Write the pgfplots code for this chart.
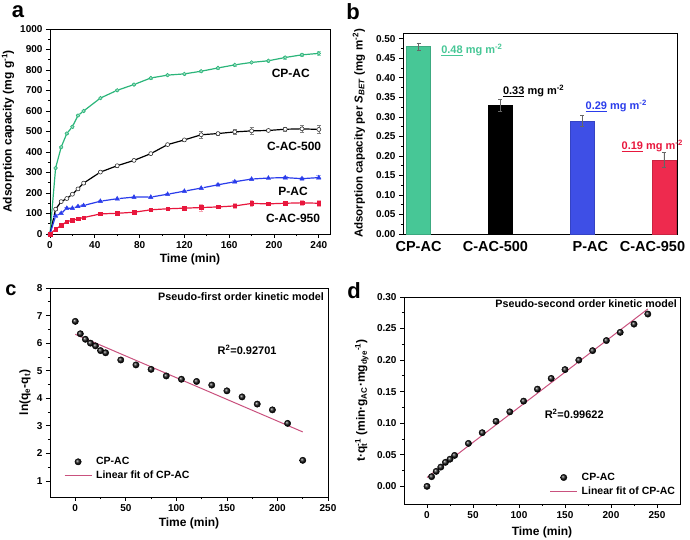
\documentclass[border=0pt]{standalone}
\usepackage{fontspec}
\setmainfont{Liberation Sans}
\usepackage{pgfplots}
\pgfplotsset{compat=1.18}
\definecolor{cgreen}{HTML}{2BB57A}
\definecolor{cblue}{HTML}{2A3CEB}
\definecolor{cred}{HTML}{E8173D}
\definecolor{bgreen}{HTML}{47C796}
\definecolor{bblue}{HTML}{3E4FE6}
\definecolor{bred}{HTML}{EE2A4E}
\definecolor{fitc}{HTML}{C9517E}
\newcommand{\fs}[1]{\fontsize{#1}{#1}\selectfont}
\pgfplotsset{
  every axis/.append style={
    scale only axis,
    axis line style={line width=0.9pt},
    tick style={line width=0.8pt, black},
    tick align=outside,
    xtick pos=left, ytick pos=left,
    major tick length=4pt, minor tick length=2.2pt,
    tick label style={font=\bfseries\fs{10}},
    label style={font=\bfseries\fs{12}},
    /pgf/number format/assume math mode=true,
    /pgf/number format/set thousands separator={},
    clip=false,
  },
}
\begin{document}
\begin{tikzpicture}
\path[use as bounding box] (0pt,0pt) rectangle (690pt,540pt);

% ---------------- panel a ----------------
\begin{axis}[at={(50pt,306pt)}, anchor=south west, width=280pt, height=205pt,
  xmin=0, xmax=250, ymin=0, ymax=1000,
  xtick={0,40,80,120,160,200,240}, minor x tick num=1,
  ytick={0,100,200,300,400,500,600,700,800,900,1000}, minor y tick num=1,
  xlabel={Time (min)},
  ylabel={Adsorption capacity (mg g\textsuperscript{-1})},
  xlabel style={at={(axis description cs:0.5,-0.125)}, anchor=center},
  ylabel style={at={(axis description cs:-0.15,0.5)}, anchor=center},
]
\addplot[cgreen, line width=1.2pt, mark=*, mark size=1.8pt, mark options={fill=cgreen!45, line width=0.6pt},
  error bars/.cd, y dir=both, y explicit, error bar style={cgreen!50, line width=0.6pt}]
  coordinates {(0,0)+-(0,0) (5,322)+-(0,5) (10,424)+-(0,5) (15,490)+-(0,5) (20,523)+-(0,6) (25,578)+-(0,5) (30,600)+-(0,5)
  (45,663)+-(0,5) (60,701)+-(0,5) (75,729)+-(0,5) (90,761)+-(0,5) (105,775)+-(0,5) (120,781)+-(0,5) (135,794)+-(0,5)
  (150,810)+-(0,5) (165,825)+-(0,5) (180,837)+-(0,5) (195,845)+-(0,5) (210,861)+-(0,6) (225,874)+-(0,6) (240,881)+-(0,9)};
\addplot[black, line width=1.2pt, mark=*, mark size=2pt, mark options={fill=white, draw=black!80, line width=0.6pt},
  error bars/.cd, y dir=both, y explicit, error bar style={gray, line width=0.6pt}]
  coordinates {(0,0)+-(0,0) (5,121)+-(0,5) (10,158)+-(0,5) (15,173)+-(0,5) (20,194)+-(0,5) (25,220)+-(0,5) (30,248)+-(0,5)
  (45,302)+-(0,5) (60,333)+-(0,5) (75,359)+-(0,5) (90,392)+-(0,5) (105,436)+-(0,5) (120,459)+-(0,5) (135,484)+-(0,17)
  (150,490)+-(0,6) (165,498)+-(0,12) (180,503)+-(0,16) (195,505)+-(0,5) (210,511)+-(0,8) (225,513)+-(0,16) (240,510)+-(0,20)};
\addplot[cblue, line width=1.2pt, mark=triangle*, mark size=2.4pt, mark options={line width=0.5pt},
  error bars/.cd, y dir=both, y explicit, error bar style={cblue!40, line width=0.6pt}]
  coordinates {(0,0)+-(0,0) (5,88)+-(0,5) (10,101)+-(0,5) (15,126)+-(0,5) (20,126)+-(0,5) (25,134)+-(0,5) (30,139)+-(0,5)
  (45,160)+-(0,5) (60,172)+-(0,5) (75,180)+-(0,5) (90,180)+-(0,5) (105,194)+-(0,5) (120,209)+-(0,5) (135,224)+-(0,6)
  (150,240)+-(0,6) (165,255)+-(0,8) (180,268)+-(0,6) (195,273)+-(0,6) (210,275)+-(0,6) (225,270)+-(0,8) (240,275)+-(0,10)};
\addplot[cred, line width=1.2pt, mark=square*, mark size=1.8pt, mark options={line width=0.5pt},
  error bars/.cd, y dir=both, y explicit, error bar style={cred!40, line width=0.6pt}]
  coordinates {(0,0)+-(0,0) (5,23)+-(0,4) (10,42)+-(0,4) (15,60)+-(0,4) (20,67)+-(0,4) (25,74)+-(0,4) (30,80)+-(0,4)
  (45,98)+-(0,5) (60,101)+-(0,5) (75,106)+-(0,5) (90,118)+-(0,5) (105,123)+-(0,5) (120,126)+-(0,5) (135,129)+-(0,16)
  (150,132)+-(0,7) (165,137)+-(0,11) (180,149)+-(0,14) (195,147)+-(0,6) (210,150)+-(0,8) (225,152)+-(0,12) (240,150)+-(0,16)};
\node[font=\bfseries\fs{12}] at (axis cs:215,785) {CP-AC};
\node[font=\bfseries\fs{12}] at (axis cs:218,429) {C-AC-500};
\node[font=\bfseries\fs{12}] at (axis cs:217,210) {P-AC};
\node[font=\bfseries\fs{12}] at (axis cs:217,78) {C-AC-950};
\end{axis}

% ---------------- panel b ----------------
\begin{axis}[at={(403pt,306pt)}, anchor=south west, width=274pt, height=201pt,
  xmin=-0.19, xmax=3.16, ymin=0, ymax=0.515,
  xtick={0,0.94,2.1,2.86}, xticklabels={CP-AC,C-AC-500,P-AC,C-AC-950},
  x tick style={draw=none},
  x tick label style={font=\bfseries\fs{14.5}},
  ytick={0,0.05,0.1,0.15,0.2,0.25,0.3,0.35,0.4,0.45,0.5}, minor y tick num=1,
  yticklabel style={/pgf/number format/.cd, fixed, fixed zerofill, precision=2},
  ylabel={Adsorption capacity per \textit{S}\textsubscript{\textit{BET}} (mg m\textsuperscript{-2})},
  ylabel style={at={(axis description cs:-0.161,0.5)}, anchor=center, font=\bfseries\fs{11.5}},
]
\addplot[ybar, bar shift=0pt, bar width=24pt, fill=bgreen, draw=bgreen!85!black,
  error bars/.cd, y dir=both, y explicit, error bar style={black!60, line width=0.6pt}]
  coordinates {(0,0.48)+-(0,0.01)};
\addplot[ybar, bar shift=0pt, bar width=24pt, fill=black, draw=black,
  error bars/.cd, y dir=both, y explicit, error bar style={black!60, line width=0.6pt}]
  coordinates {(1,0.33)+-(0,0.015)};
\addplot[ybar, bar shift=0pt, bar width=24pt, fill=bblue, draw=bblue!85!black,
  error bars/.cd, y dir=both, y explicit, error bar style={black!60, line width=0.6pt}]
  coordinates {(2,0.29)+-(0,0.015)};
\addplot[ybar, bar shift=0pt, bar width=24pt, fill=bred, draw=bred!85!black,
  error bars/.cd, y dir=both, y explicit, error bar style={black!60, line width=0.6pt}]
  coordinates {(3,0.19)+-(0,0.02)};
\node[anchor=west, text=bgreen, font=\bfseries\fs{11}] at (axis cs:0.235,0.472) {\underline{0.48} mg m\textsuperscript{-2}};
\node[anchor=west, text=black, font=\bfseries\fs{11}] at (axis cs:0.99,0.367) {\underline{0.33} mg m\textsuperscript{-2}};
\node[anchor=west, text=cblue, font=\bfseries\fs{11}] at (axis cs:2.0,0.328) {\underline{0.29} mg m\textsuperscript{-2}};
\node[anchor=west, text=cred, font=\bfseries\fs{11}] at (axis cs:2.44,0.226) {\underline{0.19} mg m\textsuperscript{-2}};
\end{axis}

% ---------------- panel c ----------------
\begin{axis}[at={(50pt,43pt)}, anchor=south west, width=278pt, height=209pt,
  xmin=-25, xmax=250, ymin=0.42, ymax=8,
  xtick={0,50,100,150,200,250}, minor x tick num=1,
  ytick={1,2,3,4,5,6,7,8}, minor y tick num=1,
  xlabel={Time (min)},
  ylabel={ln(q\textsubscript{e}-q\textsubscript{t})},
  xlabel style={at={(axis description cs:0.5,-0.124)}, anchor=center},
  ylabel style={at={(axis description cs:-0.09,0.5)}, anchor=center},
  legend cell align=left,
  legend style={at={(axis description cs:0.05,0.2)}, anchor=north west, draw=none, fill=none,
    font=\bfseries\fs{10.5}, row sep=1pt, column sep=2pt, inner sep=0pt},
  legend image code/.code={\draw[mark repeat=2,mark phase=2,#1] plot coordinates {(0pt,0pt) (13.5pt,0pt) (27pt,0pt)};},
]
\addplot[only marks, mark=ball, mark size=3.2pt, ball color=black!90]
  coordinates {(0,6.79) (5,6.34) (10,6.14) (15,6.0) (20,5.9) (25,5.73) (30,5.65) (45,5.39) (60,5.21) (75,5.05)
  (90,4.81) (105,4.69) (120,4.61) (135,4.48) (150,4.27) (165,4.05) (180,3.79) (195,3.58) (210,3.09) (225,1.75)};
\addlegendentry{CP-AC}
\addplot[fitc, line width=1pt, no marks] coordinates {(0,6.32) (225,2.78)};
\addlegendentry{Linear fit of CP-AC}
\node[font=\bfseries\fs{10.8}] at (axis cs:164,7.67) {Pseudo-first order kinetic model};
\node[font=\bfseries\fs{11}] at (axis cs:170,5.75) {R\textsuperscript{2}=0.92701};
\end{axis}

% ---------------- panel d ----------------
\begin{axis}[at={(404pt,36pt)}, anchor=south west, width=276pt, height=207pt,
  xmin=-25, xmax=275, ymin=-0.028, ymax=0.30,
  xtick={0,50,100,150,200,250}, minor x tick num=1,
  ytick={0,0.05,0.1,0.15,0.2,0.25,0.3}, minor y tick num=1,
  yticklabel style={/pgf/number format/.cd, fixed, fixed zerofill, precision=2},
  xlabel={Time (min)},
  ylabel={t·q\rlap{\textsubscript{t}}\textsuperscript{-1} (min·g\textsubscript{AC}·mg\textsubscript{dye}\textsuperscript{-1})},
  xlabel style={at={(axis description cs:0.5,-0.135)}, anchor=center},
  ylabel style={at={(axis description cs:-0.153,0.5)}, anchor=center},
  legend cell align=left,
  legend style={at={(axis description cs:0.99,0.16)}, anchor=north east, draw=none, fill=none,
    font=\bfseries\fs{10.5}, row sep=1pt, column sep=2pt, inner sep=0pt},
  legend image code/.code={\draw[mark repeat=2,mark phase=2,#1] plot coordinates {(0pt,0pt) (13.5pt,0pt) (27pt,0pt)};},
]
\addplot[only marks, mark=ball, mark size=3.2pt, ball color=black!90]
  coordinates {(0,0.0) (5,0.0153) (10,0.0237) (15,0.0305) (20,0.038) (25,0.043) (30,0.049) (45,0.068) (60,0.085)
  (75,0.103) (90,0.118) (105,0.135) (120,0.154) (135,0.171) (150,0.185) (165,0.2) (180,0.215) (195,0.231)
  (210,0.244) (225,0.257) (240,0.273)};
\addlegendentry{CP-AC}
\addplot[fitc, line width=1pt, no marks] coordinates {(0,0.014) (240,0.281)};
\addlegendentry{Linear fit of CP-AC}
\node[font=\bfseries\fs{10.7}] at (axis cs:173,0.289) {Pseudo-second order kinetic model};
\node[font=\bfseries\fs{11}] at (axis cs:160,0.115) {R\textsuperscript{2}=0.99622};
\end{axis}

% panel letters
\node[font=\bfseries\fs{22}] at (18pt,528pt) {a};
\node[font=\bfseries\fs{22}] at (353pt,528pt) {b};
\node[font=\bfseries\fs{20}] at (11pt,250pt) {c};
\node[font=\bfseries\fs{22}] at (354pt,249pt) {d};
\end{tikzpicture}
\end{document}
